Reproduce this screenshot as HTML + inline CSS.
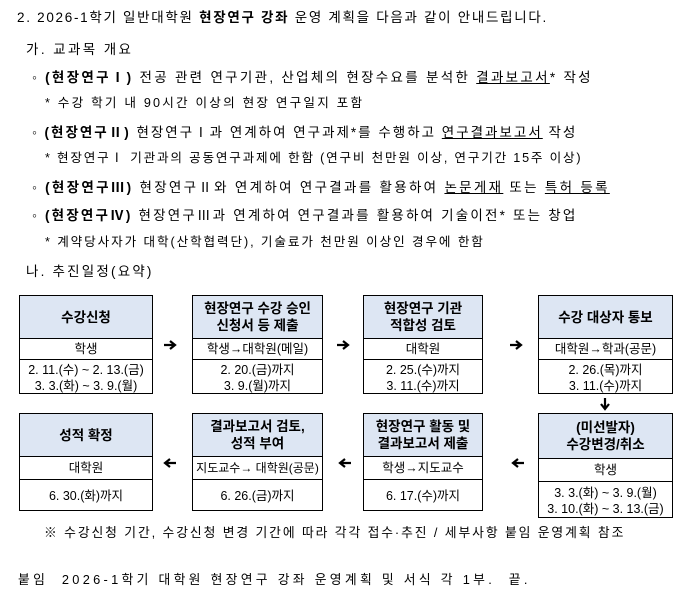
<!DOCTYPE html>
<html><head><meta charset="utf-8"><style>
body{margin:0;width:685px;height:608px;background:#fff;position:relative;font-family:"Liberation Sans","Noto Sans CJK KR",sans-serif;color:#000;overflow:hidden}
.l{position:absolute;font-size:13.5px;white-space:nowrap;line-height:18px}
u{text-decoration:underline}
.bx{position:absolute;border:1px solid #000;box-sizing:border-box;font-size:12.5px;text-align:center}
.h{background:#dde6f3;font-weight:bold;display:flex;align-items:center;justify-content:center;border-bottom:1px solid #000;line-height:17px;font-size:13.5px}
.r{border-bottom:1px solid #000;display:flex;align-items:center;justify-content:center;line-height:16px}
.d{display:flex;align-items:center;justify-content:center;flex-direction:column;line-height:16px}
svg.a{position:absolute}
</style></head><body>
<div class="l" style="left:17px;top:9px;letter-spacing:1.7px">2. 2026-1학기 일반대학원 <b>현장연구 강좌</b> 운영 계획을 다음과 같이 안내드립니다.</div>
<div class="l" style="left:26px;top:41px;letter-spacing:2.4px">가. 교과목 개요</div>
<div class="l" style="left:32px;top:69px;letter-spacing:2.3px">◦ <b>(현장연구Ⅰ)</b> 전공 관련 연구기관, 산업체의 현장수요를 분석한 <u>결과보고서</u>* 작성</div>
<div class="l" style="left:45px;top:94px;font-size:12.6px;letter-spacing:2.2px">* 수강 학기 내 90시간 이상의 현장 연구일지 포함</div>
<div class="l" style="left:32px;top:124px;letter-spacing:2.0px">◦ <b>(현장연구Ⅱ)</b> 현장연구Ⅰ과 연계하여 연구과제*를 수행하고 <u>연구결과보고서</u> 작성</div>
<div class="l" style="left:45px;top:149px;font-size:12.6px;letter-spacing:1.8px">* 현장연구Ⅰ 기관과의 공동연구과제에 한함 (연구비 천만원 이상, 연구기간 15주 이상)</div>
<div class="l" style="left:32px;top:179px;letter-spacing:2.3px">◦ <b>(현장연구Ⅲ)</b> 현장연구Ⅱ와 연계하여 연구결과를 활용하여 <u>논문게재</u> 또는 <u>특허 등록</u></div>
<div class="l" style="left:32px;top:207px;letter-spacing:2.2px">◦ <b>(현장연구Ⅳ)</b> 현장연구Ⅲ과 연계하여 연구결과를 활용하여 기술이전* 또는 창업</div>
<div class="l" style="left:45px;top:233px;font-size:12.6px;letter-spacing:1.9px">* 계약당사자가 대학(산학협력단), 기술료가 천만원 이상인 경우에 한함</div>
<div class="l" style="left:26px;top:263px;letter-spacing:2.2px">나. 추진일정(요약)</div>

<div class="bx" style="left:19px;top:295px;width:134px;height:99px"><div class="h" style="height:42px">수강신청</div><div class="r" style="height:20px">학생</div><div class="d" style="height:35px">2. 11.(수) ~ 2. 13.(금)<br>3. 3.(화) ~ 3. 9.(월)</div></div>
<div class="bx" style="left:192px;top:295px;width:131px;height:99px"><div class="h" style="height:42px">현장연구 수강 승인<br>신청서 등 제출</div><div class="r" style="height:20px">학생→대학원(메일)</div><div class="d" style="height:35px">2. 20.(금)까지<br>3. 9.(월)까지</div></div>
<div class="bx" style="left:363px;top:295px;width:120px;height:99px"><div class="h" style="height:42px">현장연구 기관<br>적합성 검토</div><div class="r" style="height:20px">대학원</div><div class="d" style="height:35px">2. 25.(수)까지<br>3. 11.(수)까지</div></div>
<div class="bx" style="left:538px;top:295px;width:135px;height:99px"><div class="h" style="height:42px">수강 대상자 통보</div><div class="r" style="height:20px">대학원→학과(공문)</div><div class="d" style="height:35px">2. 26.(목)까지<br>3. 11.(수)까지</div></div>

<div class="bx" style="left:19px;top:413px;width:134px;height:98px"><div class="h" style="height:42px">성적 확정</div><div class="r" style="height:22px">대학원</div><div class="d" style="height:32px">6. 30.(화)까지</div></div>
<div class="bx" style="left:192px;top:413px;width:131px;height:98px"><div class="h" style="height:42px">결과보고서 검토,<br>성적 부여</div><div class="r" style="height:22px;font-size:12px">지도교수→ 대학원(공문)</div><div class="d" style="height:32px">6. 26.(금)까지</div></div>
<div class="bx" style="left:363px;top:413px;width:120px;height:98px"><div class="h" style="height:42px">현장연구 활동 및<br>결과보고서 제출</div><div class="r" style="height:22px">학생→지도교수</div><div class="d" style="height:32px">6. 17.(수)까지</div></div>
<div class="bx" style="left:538px;top:413px;width:135px;height:105px"><div class="h" style="height:44px">(미선발자)<br>수강변경/취소</div><div class="r" style="height:22px">학생</div><div class="d" style="height:37px">3. 3.(화) ~ 3. 9.(월)<br>3. 10.(화) ~ 3. 13.(금)</div></div>

<svg class="a" style="left:163px;top:339px" width="14" height="12"><path d="M1 6H11M7 2L12 6L7 10" stroke="#000" stroke-width="2.2" fill="none"/></svg>
<svg class="a" style="left:336px;top:339px" width="14" height="12"><path d="M1 6H11M7 2L12 6L7 10" stroke="#000" stroke-width="2.2" fill="none"/></svg>
<svg class="a" style="left:509px;top:339px" width="14" height="12"><path d="M1 6H11M7 2L12 6L7 10" stroke="#000" stroke-width="2.2" fill="none"/></svg>
<svg class="a" style="left:599px;top:397px" width="12" height="14"><path d="M6 1V11M2 7L6 12L10 7" stroke="#000" stroke-width="2.2" fill="none"/></svg>
<svg class="a" style="left:163px;top:457px" width="14" height="12"><path d="M13 6H3M7 2L2 6L7 10" stroke="#000" stroke-width="2.2" fill="none"/></svg>
<svg class="a" style="left:338px;top:457px" width="14" height="12"><path d="M13 6H3M7 2L2 6L7 10" stroke="#000" stroke-width="2.2" fill="none"/></svg>
<svg class="a" style="left:511px;top:457px" width="14" height="12"><path d="M13 6H3M7 2L2 6L7 10" stroke="#000" stroke-width="2.2" fill="none"/></svg>

<div class="l" style="left:44px;top:524px;font-size:12.8px;letter-spacing:1.9px">※ 수강신청 기간, 수강신청 변경 기간에 따라 각각 접수·추진 / 세부사항 붙임 운영계획 참조</div>
<div class="l" style="left:18px;top:571px;font-size:12.8px;letter-spacing:3.3px">붙임&nbsp; 2026-1학기 대학원 현장연구 강좌 운영계획 및 서식 각 1부.&nbsp; 끝.</div>
</body></html>
